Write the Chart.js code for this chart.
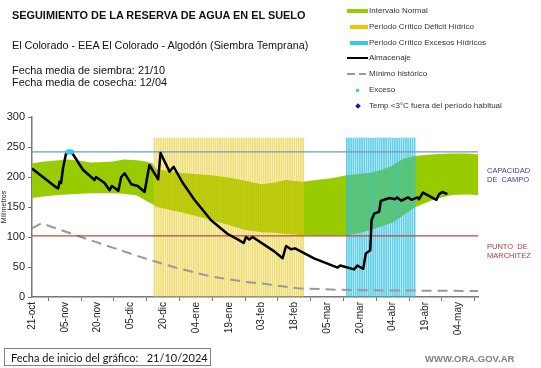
<!DOCTYPE html>
<html>
<head>
<meta charset="utf-8">
<script src="https://cdn.jsdelivr.net/npm/chart.js@4.4.1/dist/chart.umd.min.js"></script>
<style>
  body { margin: 0; background: #fff; font-family: 'Liberation Sans', Arial, sans-serif; }
  #wrap { position: relative; width: 541px; height: 368px; overflow: hidden; }
  #chart { position: absolute; left: 0; top: 0; }
  .txt { position: absolute; white-space: nowrap; color: #111; line-height: 1; }
  .leg { position: absolute; left: 369px; font-size: 8px; color: #333; white-space: nowrap; line-height: 1; }
  .ico { position: absolute; }
  .side { position: absolute; left: 487px; font-size: 7.5px; line-height: 9px; white-space: nowrap; }
</style>
</head>
<body>
<div id="wrap">
  <canvas id="chart" width="541" height="368"></canvas>

  <div class="txt" style="left:12px; top:10px; font-size:10.9px; font-weight:bold;">SEGUIMIENTO DE LA RESERVA DE AGUA EN EL SUELO</div>
  <div class="txt" style="left:12px; top:40px; font-size:10.8px;">El Colorado - EEA El Colorado - Algodón (Siembra Temprana)</div>
  <div class="txt" style="left:12px; top:65px; font-size:10.9px;">Fecha media de siembra: 21/10</div>
  <div class="txt" style="left:12px; top:77px; font-size:10.9px;">Fecha media de cosecha: 12/04</div>

  <!-- Legend -->
  <div class="ico" style="left:347px; top:9px; width:21px; height:4px; background:#99cc00;"></div>
  <div class="leg" style="top:7px;">Intervalo Normal</div>
  <div class="ico" style="left:350px; top:25px; width:18px; height:4px; background:#f5c400;"></div>
  <div class="leg" style="top:23px;">Periodo Crítico Déficit Hídrico</div>
  <div class="ico" style="left:350px; top:41px; width:18px; height:4px; background:#33c9ea;"></div>
  <div class="leg" style="top:39px;">Periodo Crítico Excesos Hídricos</div>
  <div class="ico" style="left:347px; top:57px; width:21px; height:2px; background:#000;"></div>
  <div class="leg" style="top:54px;">Almacenaje</div>
  <div class="ico" style="left:347px; top:73px; width:8px; height:2px; background:#999;"></div>
  <div class="ico" style="left:359px; top:73px; width:7px; height:2px; background:#999;"></div>
  <div class="leg" style="top:70px;">Mínimo histórico</div>
  <div class="ico" style="left:356px; top:89px; width:3px; height:3px; background:#33c9ea;"></div>
  <div class="leg" style="top:86px;">Exceso</div>
  <div class="ico" style="left:356px; top:104px; width:4px; height:4px; background:#1a1a9a; transform:rotate(45deg);"></div>
  <div class="leg" style="top:102px;">Temp &lt;3°C fuera del período habitual</div>

  <!-- Reference line labels -->
  <div class="side" style="top:166px; color:#3b3ba8;">CAPACIDAD<br>DE&nbsp; CAMPO</div>
  <div class="side" style="top:242px; color:#b23a3a;">PUNTO&nbsp; DE<br>MARCHITEZ</div>

  <div class="txt" style="left:4px; top:348px; width:205px; height:16px; border:1px solid #8c7b7b; font-family:Lato, 'Open Sans', sans-serif; font-size:11px;">
    <span style="position:absolute; left:6px; top:3px;">Fecha de inicio del gráfico:&nbsp;&nbsp; 21/10/2024</span>
  </div>
  <div class="txt" style="left:425px; top:354px; font-size:9.5px; font-weight:bold; color:#808080;">WWW.ORA.GOV.AR</div>
</div>

<script>
// Axis setup (days since 21/10/2024)
const lastDay = 204;
const tickStep = 15;
const tickLabels = ['21-oct', '05-nov', '20-nov', '05-dic', '20-dic', '04-ene', '19-ene',
    '03-feb', '18-feb', '05-mar', '20-mar', '04-abr', '19-abr', '04-may'];

// Reference levels (mm)
const fieldCapacity = 242;
const wiltingPoint = 102;

// Critical periods (day ranges) and stripe height
const deficitPeriod = [56, 124];
const excessPeriod = [144, 175];
const periodTop = 265;

// Intervalo normal
const bandDays  = [0, 6, 12, 16, 22, 27, 33, 37, 42, 48, 52, 55, 57, 67, 75, 82, 90, 97, 105, 111, 116, 124, 130, 137, 144, 149, 155, 160, 165, 169, 175, 184, 192, 199, 204];
const bandUpper = [223, 226, 228, 229, 227, 224, 225, 226, 229, 228, 226, 223, 213, 207, 205, 203, 199, 194, 188, 191, 195, 192, 195, 198, 203, 205, 207, 212, 219, 229, 235, 238, 239, 239, 238];
const bandLower = [165, 168, 170, 171, 172, 173, 173, 173, 172, 169, 161, 155, 150, 142, 135, 128, 120, 112, 108, 107, 105, 103, 102, 102, 103, 106, 112, 118, 124, 134, 149, 163, 170, 171, 170];

// Almacenaje
const storageDays = [0, 11.3, 12, 12.6, 13.3, 14.2, 15.5, 16.5, 18, 23.3, 28.6, 29.3, 33.2, 35.5, 36.5, 38.5, 39.5, 40.8, 42.4, 45.4, 48.4, 51.5, 53.7, 57.7, 58.8, 62.9, 64.8, 69, 74.3, 81.9, 89.5, 94.1, 96.8, 97.9, 99.4, 100.9, 110.8, 114.6, 116.2, 118.5, 120.3, 129, 139.8, 141, 147.3, 148.8, 151.5, 152.7, 154.7, 155.3, 156.5, 158.8, 159.5, 161, 163.6, 166, 167, 169, 172, 173.6, 176.3, 177, 178.8, 185, 186.2, 187.7, 190];
const storageValues = [214, 182, 181, 192, 190, 215, 238, 242, 242, 212, 195, 200, 190, 178, 185, 180, 177, 200, 206, 188, 185, 175, 220, 196, 240, 209, 217, 190, 162, 128, 105, 96, 90, 100, 96, 100, 76, 64.5, 85, 79.5, 81, 64.5, 49, 52.5, 46, 52.5, 47, 72.5, 78, 128, 139, 142, 160, 162, 165, 163, 166, 160.5, 166, 162, 166, 163, 174, 162, 171.5, 175, 171.5];

// Mínimo histórico
const minDays = [0, 4.3, 24, 51.5, 66.7, 82, 97, 106, 121.6, 140, 160, 204];
const minValues = [114.5, 123, 98, 64.5, 48, 34, 25.5, 22, 14.5, 12, 11, 10];

// Exceso markers
const excessDays = [16.5, 17.2, 18];
const excessValues = [242, 242, 242];

function toPoints(xs, ys) {
    return xs.map((x, i) => ({ x: x, y: ys[i] }));
}

function periodBars(range) {
    const bars = [];
    for (let d = range[0]; d <= range[1]; d++) {
        bars.push({ x: d, y: periodTop });
    }
    return bars;
}

const ctx = document.getElementById('chart').getContext('2d');

new Chart(ctx, {
    type: 'line',
    data: {
        datasets: [
            {
                label: 'lower',
                data: toPoints(bandDays, bandLower),
                borderWidth: 0,
                pointRadius: 0,
                fill: false,
                order: 10
            },
            {
                label: 'Intervalo Normal',
                data: toPoints(bandDays, bandUpper),
                borderWidth: 0,
                pointRadius: 0,
                backgroundColor: '#99cc00',
                fill: '-1',
                order: 10
            },
            {
                type: 'bar',
                label: 'Periodo Crítico Déficit Hídrico',
                data: periodBars(deficitPeriod),
                backgroundColor: 'rgba(228, 200, 30, 0.6)',
                barThickness: 1.1,
                grouped: false,
                order: 9
            },
            {
                type: 'bar',
                label: 'Periodo Crítico Excesos Hídricos',
                data: periodBars(excessPeriod),
                backgroundColor: 'rgba(40, 190, 222, 0.72)',
                barThickness: 1.1,
                grouped: false,
                order: 9
            },
            {
                label: 'Mínimo histórico',
                data: toPoints(minDays, minValues),
                borderColor: '#999999',
                borderWidth: 2,
                borderDash: [10, 6],
                pointRadius: 0,
                order: 8
            },
            {
                label: 'Capacidad de campo',
                data: [{ x: 0, y: fieldCapacity }, { x: lastDay, y: fieldCapacity }],
                borderColor: '#7396c8',
                borderWidth: 1.2,
                pointRadius: 0,
                order: 7
            },
            {
                label: 'Punto de marchitez',
                data: [{ x: 0, y: wiltingPoint }, { x: lastDay, y: wiltingPoint }],
                borderColor: '#b84a40',
                borderWidth: 1.2,
                pointRadius: 0,
                order: 7
            },
            {
                label: 'Almacenaje',
                data: toPoints(storageDays, storageValues),
                borderColor: '#000000',
                borderWidth: 2.5,
                borderJoinStyle: 'round',
                pointRadius: 0,
                tension: 0,
                order: 2
            },
            {
                label: 'Exceso',
                data: toPoints(excessDays, excessValues),
                showLine: false,
                pointRadius: 2.6,
                pointBackgroundColor: '#33c9ea',
                pointBorderWidth: 0,
                order: 1
            }
        ]
    },
    options: {
        responsive: false,
        animation: false,
        devicePixelRatio: 1,
        layout: { padding: { top: 117, right: 63, bottom: 0, left: 0 } },
        plugins: {
            legend: { display: false },
            tooltip: { enabled: false }
        },
        scales: {
            x: {
                type: 'linear',
                min: 0,
                max: lastDay,
                offset: false,
                afterFit: scale => { scale.height = 71; },
                afterBuildTicks: scale => {
                    scale.ticks = tickLabels.map((_, i) => ({ value: i * tickStep }));
                },
                ticks: {
                    autoSkip: false,
                    minRotation: 90,
                    maxRotation: 90,
                    padding: 1,
                    color: '#222',
                    font: { family: "'Liberation Sans', Arial, sans-serif", size: 10 },
                    callback: value => tickLabels[Math.round(value / tickStep)]
                },
                grid: { drawOnChartArea: false, tickLength: 4, color: '#777' },
                border: { color: '#777', width: 1.5 }
            },
            y: {
                min: 0,
                max: 300,
                afterFit: scale => { scale.width = 32; },
                ticks: {
                    stepSize: 50,
                    padding: 3,
                    color: '#222',
                    font: { family: "'Liberation Sans', Arial, sans-serif", size: 11 }
                },
                title: {
                    display: true,
                    text: 'Milímetros',
                    color: '#222',
                    padding: 0,
                    font: { family: "'Liberation Sans', Arial, sans-serif", size: 7 }
                },
                grid: { drawOnChartArea: false, tickLength: 4, color: '#777' },
                border: { color: '#777', width: 1.5 }
            }
        }
    }
});
</script>
</body>
</html>
